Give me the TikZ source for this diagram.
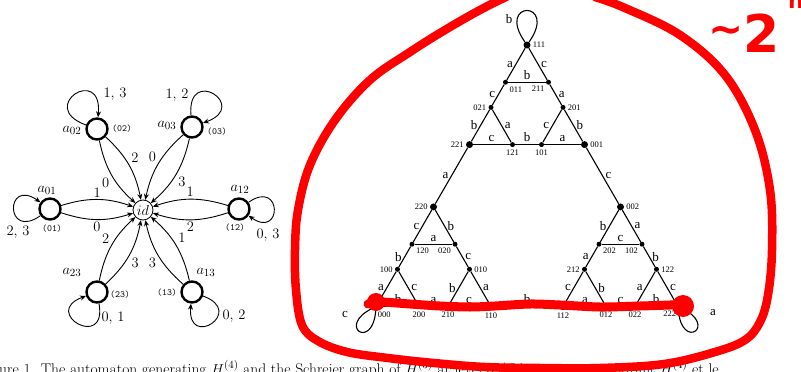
\documentclass[tikz,border=0pt]{standalone}
\usepackage{fontspec}
\newfontfamily\tms{Liberation Serif}
\newfontfamily\hand{DejaVu Sans}
\usetikzlibrary{arrows.meta,calc}
\begin{document}
\begin{tikzpicture}[x=1pt,y=1pt,
  state/.style={circle,draw,line width=2.4pt,minimum size=21pt,inner sep=0pt},
  idnode/.style={circle,draw,line width=0.8pt,minimum size=20pt,inner sep=0pt,font=\fontsize{15}{15}\selectfont},
  arr/.style={-{Stealth[length=6pt,width=5pt]},line width=0.9pt},
  lbl/.style={font=\fontsize{14.5}{14.5}\selectfont,inner sep=2pt},
  perm/.style={font=\fontsize{9.5}{9.5}\selectfont\ttfamily,inner sep=0pt},
  sname/.style={font=\fontsize{15}{15}\selectfont,inner sep=0pt},
  bigdot/.style={circle,fill,inner sep=0pt,minimum size=7pt},
  smalldot/.style={circle,fill,inner sep=0pt,minimum size=5pt},
  sedge/.style={line width=1.1pt},
  el/.style={font=\tms\fontsize{13}{13}\selectfont,inner sep=2.5pt},
  vl/.style={font=\tms\fontsize{8.5}{8.5}\selectfont,inner sep=2pt},
  redmark/.style={red,line width=8.5pt,line cap=round,line join=round},
  hw/.style={text=red,inner sep=0pt}
]
\useasboundingbox (0,0) rectangle (801,-372);

% ---------------- automaton ----------------
\node[idnode] (id) at (143,-210) {$id$};
\node[state] (a02) at (97,-129) {};
\node[state] (a03) at (192,-127) {};
\node[state] (a01) at (50,-209) {};
\node[state] (a12) at (239,-209) {};
\node[state] (a23) at (97,-292) {};
\node[state] (a13) at (192,-292) {};

\node[sname] (n-a02) at (72,-130) {$a_{02}$};
\node[perm]  (p-a02) at (122,-129) {(02)};
\node[sname] (n-a03) at (167,-125) {$a_{03}$};
\node[perm]  (p-a03) at (217,-132) {(03)};
\node[sname] (n-a01) at (47,-190) {$a_{01}$};
\node[perm]  (p-a01) at (52,-229) {(01)};
\node[sname] (n-a12) at (240,-189) {$a_{12}$};
\node[perm]  (p-a12) at (235,-228) {(12)};
\node[sname] (n-a23) at (72,-272) {$a_{23}$};
\node[perm]  (p-a23) at (120,-295) {(23)};
\node[sname] (n-a13) at (206,-272) {$a_{13}$};
\node[perm]  (p-a13) at (167,-293) {(13)};

\draw[arr] (a02) to[bend left=18] node[lbl,auto] {2} (id);
\draw[arr] (a02) to[bend right=18] node[lbl,auto,swap] {0} (id);
\draw[arr] (a03) to[bend left=18] node[lbl,auto] {3} (id);
\draw[arr] (a03) to[bend right=18] node[lbl,auto,swap] {0} (id);
\draw[arr] (a01) to[bend left=18] node[lbl,auto] {1} (id);
\draw[arr] (a01) to[bend right=18] node[lbl,auto,swap] {0} (id);
\draw[arr] (a12) to[bend left=18] node[lbl,auto] {2} (id);
\draw[arr] (a12) to[bend right=18] node[lbl,auto,swap] {1} (id);
\draw[arr] (a23) to[bend left=18] node[lbl,auto] {2} (id);
\draw[arr] (a23) to[bend right=18] node[lbl,auto,swap] {3} (id);
\draw[arr] (a13) to[bend left=18] node[lbl,auto] {3} (id);
\draw[arr] (a13) to[bend right=18] node[lbl,auto,swap] {1} (id);

\draw[arr] (a02) .. controls +(160:65) and +(85:65) .. (a02);
\draw[arr] (a03) .. controls +(95:62) and +(20:62) .. (a03);
\draw[arr] (a01) .. controls +(215:55) and +(145:55) .. (a01);
\draw[arr] (a12) .. controls +(35:53) and +(-35:53) .. (a12);
\draw[arr] (a23) .. controls +(280:60) and +(200:60) .. (a23);
\draw[arr] (a13) .. controls +(-20:58) and +(265:58) .. (a13);

\node[lbl] (l-a02) at (115,-94) {1, 3};
\node[lbl] (l-a03) at (177,-95) {1, 2};
\node[lbl] (l-a01) at (18,-232) {2, 3};
\node[lbl] (l-a12) at (268,-235) {0, 3};
\node[lbl] (l-a23) at (113,-318) {0, 1};
\node[lbl] (l-a13) at (234,-316) {0, 2};

% ---------------- Schreier graph ----------------
\coordinate (T) at (527,-45);
\coordinate (A) at ($(T)+(240:187)$);
\coordinate (B) at ($(T)+(300:187)$);

\node[bigdot,label={[vl]right:111}] (n111) at (T) {};
\node[smalldot,label={[vl]below right:011}] (n011) at ($(T)+(240:43)$) {};
\node[smalldot,label={[vl]below left:211}] (n211) at ($(T)+(300:43)$) {};
\node[smalldot,label={[vl]left:021}] (n021) at ($(T)+(240:72)$) {};
\node[smalldot,label={[vl]right:201}] (n201) at ($(T)+(300:72)$) {};
\node[bigdot,label={[vl]left:221}] (n221) at ($(T)+(240:115)$) {};
\node[bigdot,label={[vl]right:001}] (n001) at ($(T)+(300:115)$) {};
\node[smalldot,label={[vl]below:121}] (n121) at ($(n021)+(300:43)$) {};
\node[smalldot,label={[vl]below:101}] (n101) at ($(n201)+(240:43)$) {};

\node[bigdot,label={[vl]left:220}] (n220) at (A) {};
\node[smalldot,label={[vl]below right:120}] (n120) at ($(A)+(240:43)$) {};
\node[smalldot,label={[vl]below left:020}] (n020) at ($(A)+(300:43)$) {};
\node[smalldot,label={[vl]left:100}] (n100) at ($(A)+(240:72)$) {};
\node[smalldot,label={[vl]right:010}] (n010) at ($(A)+(300:72)$) {};
\node[bigdot,label={[vl,xshift=-3pt]below right:000}] (n000) at ($(A)+(240:115)$) {};
\node[bigdot,label={[vl]below:110}] (n110) at ($(A)+(300:115)$) {};
\node[smalldot,label={[vl]below:200}] (n200) at ($(n100)+(300:43)$) {};
\node[smalldot,label={[vl]below:210}] (n210) at ($(n010)+(240:43)$) {};

\node[bigdot,label={[vl]right:002}] (n002) at (B) {};
\node[smalldot,label={[vl]below right:202}] (n202) at ($(B)+(240:43)$) {};
\node[smalldot,label={[vl]below left:102}] (n102) at ($(B)+(300:43)$) {};
\node[smalldot,label={[vl]left:212}] (n212) at ($(B)+(240:72)$) {};
\node[smalldot,label={[vl]right:122}] (n122) at ($(B)+(300:72)$) {};
\node[bigdot,label={[vl]below:112}] (n112) at ($(B)+(240:115)$) {};
\node[bigdot,label={[vl,xshift=3pt]below left:222}] (n222) at ($(B)+(300:115)$) {};
\node[smalldot,label={[vl]below:012}] (n012) at ($(n212)+(300:43)$) {};
\node[smalldot,label={[vl]below:022}] (n022) at ($(n122)+(240:43)$) {};

% top block
\draw[sedge] (n111) -- node[el,left]{a} (n011);
\draw[sedge] (n111) -- node[el,right]{c} (n211);
\draw[sedge] (n011) -- node[el,above]{b} (n211);
\draw[sedge] (n011) -- node[el,left]{c} (n021);
\draw[sedge] (n211) -- node[el,right]{a} (n201);
\draw[sedge] (n021) -- node[el,left]{b} (n221);
\draw[sedge] (n021) -- node[el,right]{a} (n121);
\draw[sedge] (n221) -- node[el,above]{c} (n121);
\draw[sedge] (n121) -- node[el,above]{b} (n101);
\draw[sedge] (n201) -- node[el,left]{c} (n101);
\draw[sedge] (n201) -- node[el,right]{b} (n001);
\draw[sedge] (n101) -- node[el,above]{a} (n001);
% connectors
\draw[sedge] (n221) -- node[el,left]{a} (n220);
\draw[sedge] (n001) -- node[el,right]{c} (n002);
\draw[sedge] (n110) -- node[el,above]{b} (n112);
% bottom-left block
\draw[sedge] (n220) -- node[el,left]{c} (n120);
\draw[sedge] (n220) -- node[el,right]{b} (n020);
\draw[sedge] (n120) -- node[el,above]{a} (n020);
\draw[sedge] (n120) -- node[el,left]{b} (n100);
\draw[sedge] (n020) -- node[el,right]{c} (n010);
\draw[sedge] (n100) -- node[el,left]{a} (n000);
\draw[sedge] (n100) -- node[el,right]{c} (n200);
\draw[sedge] (n000) -- node[el,above]{b} (n200);
\draw[sedge] (n200) -- node[el,above]{a} (n210);
\draw[sedge] (n010) -- node[el,left]{b} (n210);
\draw[sedge] (n010) -- node[el,right]{a} (n110);
\draw[sedge] (n210) -- node[el,above]{c} (n110);
% bottom-right block
\draw[sedge] (n002) -- node[el,left]{b} (n202);
\draw[sedge] (n002) -- node[el,right]{a} (n102);
\draw[sedge] (n202) -- node[el,above]{c} (n102);
\draw[sedge] (n202) -- node[el,left]{a} (n212);
\draw[sedge] (n102) -- node[el,right]{b} (n122);
\draw[sedge] (n212) -- node[el,left]{c} (n112);
\draw[sedge] (n212) -- node[el,right]{b} (n012);
\draw[sedge] (n112) -- node[el,above]{a} (n012);
\draw[sedge] (n012) -- node[el,above]{c} (n022);
\draw[sedge] (n122) -- node[el,left]{a} (n022);
\draw[sedge] (n122) -- node[el,right]{c} (n222);
\draw[sedge] (n022) -- node[el,above]{b} (n222);
% loops
\draw[sedge] (n111) .. controls +(125:55) and +(55:55) .. (n111);
\draw[sedge] (n000) .. controls +(206:45) and +(266:45) .. (n000);
\draw[sedge] (n222) .. controls +(275:45) and +(335:45) .. (n222);
\node[el] (l111) at (509,-19) {b};
\node[el] (l000) at (345,-314) {c};
\node[el] (l222) at (713,-313) {a};

% ---------------- caption ----------------
\node[anchor=base west,inner sep=0pt,font=\fontsize{15.5}{15.5}\selectfont] (cap) at (-1,-374)
  {ure 1. The automaton generating $H^{(4)}$ and the Schreier graph of $H^{(3)}$ at level 3 / L'automate engendrant $H^{(4)}$ et le};

% ---------------- red handwriting ----------------
\draw[redmark] plot[smooth,tension=0.6] coordinates {
  (595,3) (625,-8) (680,-35) (725,-75) (755,-130) (770,-190) (772,-250)
  (768,-295) (760,-322) (745,-340) (715,-352) (664,-364) (600,-368)
  (540,-368) (485,-367) (434,-363) (388,-358) (347,-352) (318,-341)
  (302,-325) (296,-290) (295,-250) (298,-210) (310,-165) (335,-120)
  (370,-80) (410,-52) (445,-30) (480,-10) (510,5)};
\draw[redmark,line width=9pt] plot[smooth,tension=0.5] coordinates {
  (368,-304) (380,-302) (410,-304) (440,-306) (470,-307) (495,-306)
  (530,-304) (560,-305) (600,-307) (640,-306) (670,-305) (688,-304)};
\fill[red] (376,-302) circle (9);
\fill[red] (683,-306) circle (11);
\node[hw,font=\hand\bfseries\fontsize{42}{42}\selectfont] (tld) at (726,-35) {\char"007E};
\node[hw,font=\hand\bfseries\fontsize{52}{52}\selectfont] (two) at (762,-33) {2};
\node[hw,font=\hand\bfseries\fontsize{22}{22}\selectfont] (sup) at (796,-2) {n};
\end{tikzpicture}
\end{document}
